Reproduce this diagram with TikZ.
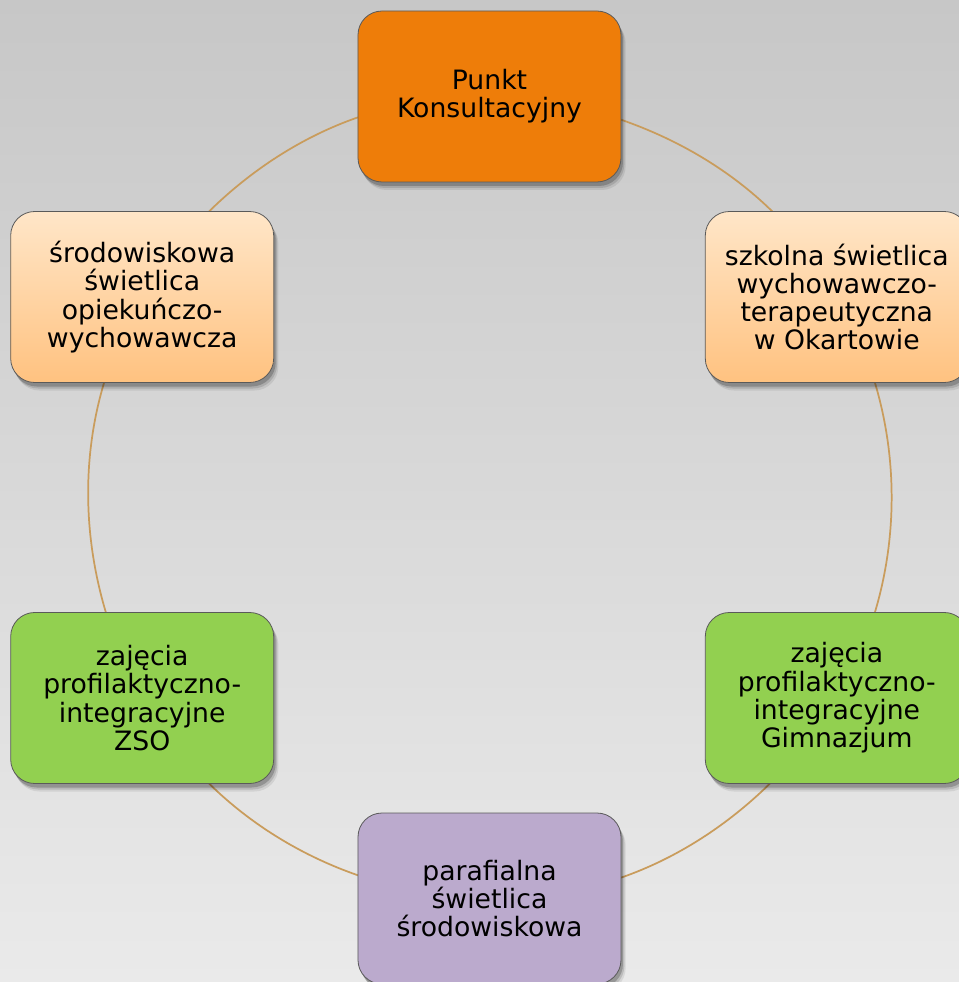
\documentclass[tikz,border=0pt]{standalone}
\usepackage{fontspec}
\setmainfont{DejaVu Sans}
\usetikzlibrary{shadows}

\definecolor{bgtop}{RGB}{199,199,199}
\definecolor{bgbot}{RGB}{234,234,234}
\definecolor{ringline}{RGB}{201,156,92}
\definecolor{boxline}{RGB}{90,90,90}
\definecolor{orangebox}{RGB}{238,125,9}
\definecolor{peachtop}{RGB}{255,230,200}
\definecolor{peachbot}{RGB}{255,194,128}
\definecolor{greenbox}{RGB}{146,208,80}
\definecolor{lilacbox}{RGB}{187,170,205}

\pgfdeclarelayer{back}
\pgfdeclarelayer{arcs}
\pgfsetlayers{back,arcs,main}

\tikzset{
  boxnode/.style={draw=boxline, line width=0.6pt, rounded corners=18pt,
    minimum width=197.25pt, minimum height=128.25pt, inner sep=2pt, outer sep=0pt,
    align=center, font=\fontsize{20pt}{21.2pt}\selectfont,
    drop shadow={shadow xshift=3.5pt, shadow yshift=-6pt, opacity=0.08, fill=black},
    drop shadow={shadow xshift=2.5pt, shadow yshift=-4.5pt, opacity=0.12, fill=black},
    drop shadow={shadow xshift=1.5pt, shadow yshift=-3pt, opacity=0.2, fill=black}},
  peachbox/.style={boxnode, top color=peachtop, bottom color=peachbot},
  ring/.style={draw=ringline, line width=1.3pt},
}

\begin{document}
\begin{tikzpicture}[x=0.75pt,y=0.75pt]
%set diagram frame: 959 x 982, origin at centre of the ring
\begin{pgfonlayer}{back}
\shade[top color=bgtop, bottom color=bgbot] (-489.5,-484.5) rectangle (469.5,497.5);
\end{pgfonlayer}
\useasboundingbox (-489.5,-484.5) rectangle (469.5,497.5);
\clip (-489.5,-484.5) rectangle (469.5,497.5);

%Shape: Rounded Rectangles on the ring
\node[boxnode, fill=orangebox] (punkt) at (0,401) {Punkt\\Konsultacyjny};
\node[peachbox] (szkolna) at (347.3,200.5) {szkolna świetlica\\wychowawczo-\\terapeutyczna\\w Okartowie};
\node[boxnode, fill=greenbox] (gimnazjum) at (347.3,-200.5) {zajęcia\\profilaktyczno-\\integracyjne\\Gimnazjum};
\node[boxnode, fill=lilacbox] (parafialna) at (0,-401) {parafialna\\świetlica\\środowiskowa};
\node[boxnode, fill=greenbox] (zso) at (-347.3,-200.5) {zajęcia\\profilaktyczno-\\integracyjne\\ZSO};
\node[peachbox] (srodowiskowa) at (-347.3,200.5) {środowiskowa\\świetlica\\opiekuńczo-\\wychowawcza};

%Arcs of the ring, clockwise
\begin{pgfonlayer}{arcs}
\draw[ring] (srodowiskowa.52.25) to[out=44.5, in=199.14, looseness=0.86] (punkt.189.6);
\draw[ring] (punkt.350.4) to[out=-19.14, in=135.5, looseness=0.86] (szkolna.127.75);
\draw[ring] (szkolna.-66.66) to[out=-73.34, in=73.34, looseness=0.87] (gimnazjum.66.66);
\draw[ring] (gimnazjum.232.25) to[out=224.5, in=19.14, looseness=0.86] (parafialna.9.6);
\draw[ring] (parafialna.170.4) to[out=160.86, in=-44.5, looseness=0.86] (zso.-52.25);
\draw[ring] (zso.113.34) to[out=106.66, in=253.34, looseness=0.87] (srodowiskowa.246.66);
\end{pgfonlayer}

\end{tikzpicture}
\end{document}
